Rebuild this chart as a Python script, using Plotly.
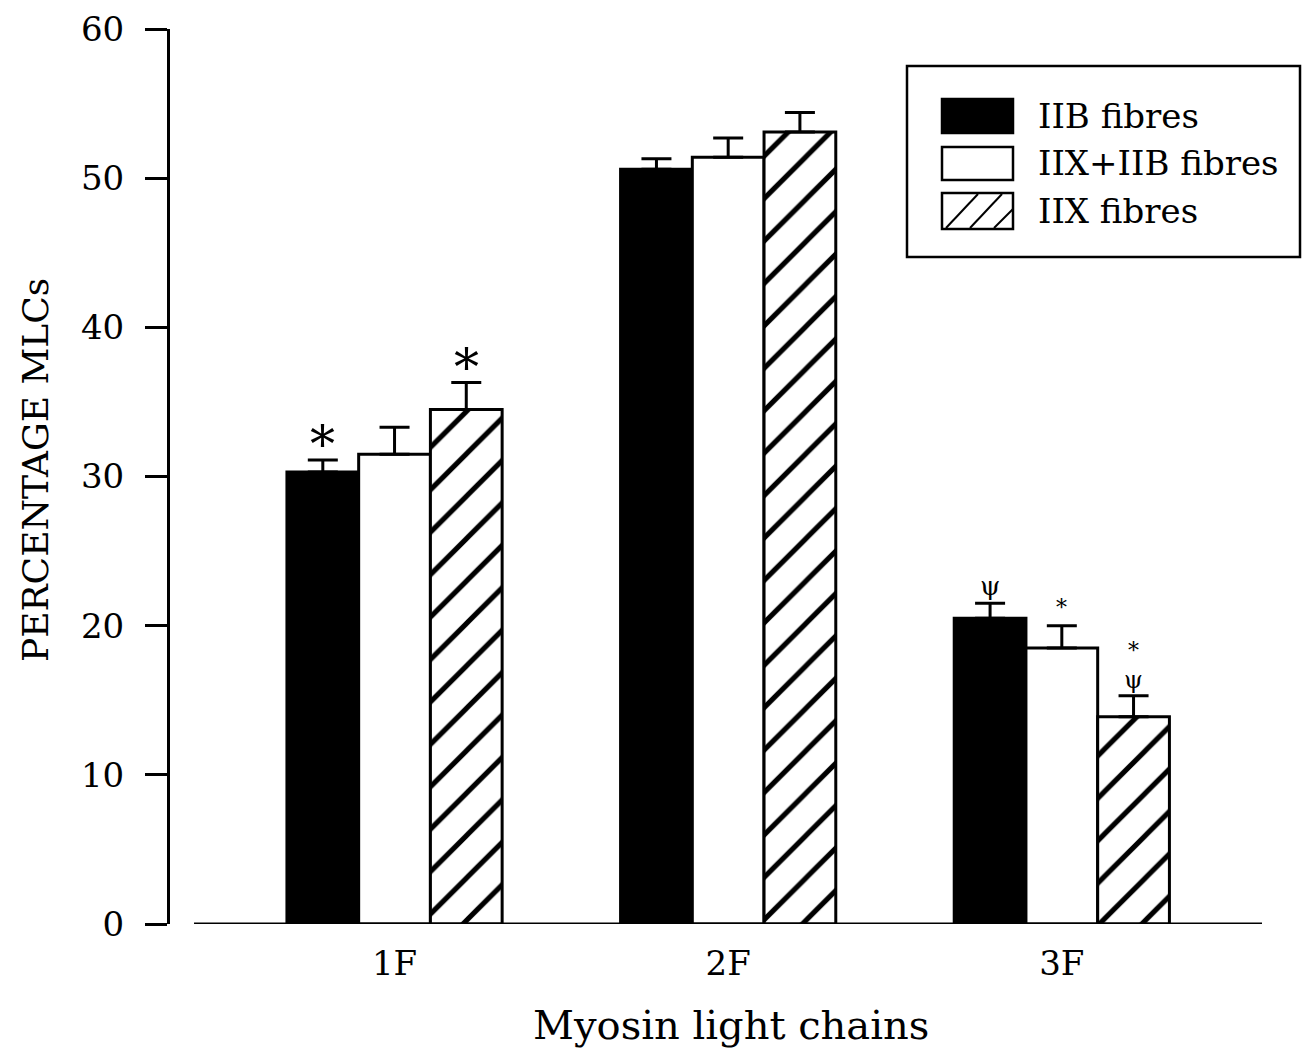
import plotly.graph_objects as go

# Myosin light chain composition by fibre type
categories = ["1F", "2F", "3F"]
series_names = ["IIB fibres", "IIX+IIB fibres", "IIX fibres"]
iib_values = [30.3, 50.6, 20.5]
iib_errors = [0.8, 0.7, 1.0]
mixed_values = [31.5, 51.4, 18.5]
mixed_errors = [1.8, 1.3, 1.5]
iix_values = [34.5, 53.1, 13.9]
iix_errors = [1.8, 1.3, 1.4]
y_ticks = [0, 10, 20, 30, 40, 50, 60]

FONT = "DejaVu Serif"
W, H = 1311, 1053
L, R, T, B = 170, 1262, 29, 924  # plot area edges in pixels


def px(x):
    return (x - L) / (R - L)


def py(y):
    return (B - y) / (B - T)


fig = go.Figure()

styles = [
    dict(color="black"),
    dict(color="white"),
    dict(color="white", pattern=dict(shape="/", fgcolor="black", bgcolor="white",
                                     fgopacity=1, size=30, solidity=0.17,
                                     fillmode="replace")),
]
values = [iib_values, mixed_values, iix_values]
errors = [iib_errors, mixed_errors, iix_errors]

for name, vals, errs, st in zip(series_names, values, errors, styles):
    fig.add_trace(go.Bar(
        name=name, x=categories, y=vals,
        marker=dict(line=dict(color="black", width=3), **st),
        error_y=dict(type="data", array=errs, arrayminus=[0] * len(errs),
                     symmetric=False, color="black", thickness=3, width=15),
        showlegend=False,
    ))

# x axis baseline (starts a little right of the y axis)
fig.add_shape(type="line", xref="x", yref="y", x0=-0.601, x1=2.6, y0=0, y1=0,
              line=dict(color="black", width=3))

# significance markers above the error bars
off = 0.215
marks = [
    (0 - off, iib_values[0] + iib_errors[0], "*", 50, -16),
    (0 + off, iix_values[0] + iix_errors[0], "*", 50, -16),
    (2 - off, iib_values[2] + iib_errors[2], "ψ", 26, 0),
    (2, mixed_values[2] + mixed_errors[2], "*", 22, 4),
    (2 + off, iix_values[2] + iix_errors[2], "ψ", 24, 0),
    (2 + off, iix_values[2] + iix_errors[2], "*", 22, 31),
]
for x, y, s, size, shift in marks:
    fig.add_annotation(x=x, y=y, xref="x", yref="y",
                       text=s, showarrow=False, xanchor="center", yanchor="bottom",
                       yshift=shift, font=dict(family=FONT, size=size, color="black"))

# legend box drawn by hand
fig.add_shape(type="rect", xref="paper", yref="paper",
              x0=px(907), x1=px(1300), y0=py(257), y1=py(66),
              line=dict(color="black", width=2.5), fillcolor="white")
rows = [(99, 133), (147, 180), (193, 229)]
sw_x0, sw_x1 = 942, 1013
fills = ["black", "white", "white"]
for (y0, y1), fc, name in zip(rows, fills, series_names):
    fig.add_shape(type="rect", xref="paper", yref="paper",
                  x0=px(sw_x0), x1=px(sw_x1), y0=py(y1), y1=py(y0),
                  line=dict(color="black", width=2.5), fillcolor=fc)
    fig.add_annotation(x=px(1036), y=py((y0 + y1) / 2), xref="paper", yref="paper",
                       text=name, showarrow=False, xanchor="left", yanchor="middle",
                       font=dict(family=FONT, size=34, color="black"))
# hatching inside the third swatch
hy0, hy1 = rows[2]
for xb, xt, yt in [(946, 978, hy0), (970, 1002, hy0), (994, 1013, hy0 + 15)]:
    fig.add_shape(type="line", xref="paper", yref="paper",
                  x0=px(xb), y0=py(hy1 - 1), x1=px(xt), y1=py(yt + 1),
                  line=dict(color="black", width=2))

# axis titles
fig.add_annotation(x=px(35), y=py(470), xref="paper", yref="paper",
                   text="PERCENTAGE MLCs", textangle=-90, showarrow=False,
                   xanchor="center", yanchor="middle",
                   font=dict(family=FONT, size=36, color="black"))
fig.add_annotation(x=px(731), y=py(1025), xref="paper", yref="paper",
                   text="Myosin light chains", showarrow=False,
                   xanchor="center", yanchor="middle",
                   font=dict(family=FONT, size=40, color="black"))

fig.update_layout(
    width=W, height=H,
    margin=dict(l=L, r=W - R, t=T, b=H - B),
    paper_bgcolor="white", plot_bgcolor="white",
    barmode="group", bargap=0.355, bargroupgap=0,
    xaxis=dict(range=[-0.673, 2.6], showline=False, showgrid=False, zeroline=False,
               ticks="", tickfont=dict(family=FONT, size=34, color="black"),
               ticklabelstandoff=16, automargin=False),
    yaxis=dict(range=[0, 60], tickvals=y_ticks, showline=True, linecolor="black",
               linewidth=3, ticks="outside", ticklen=22, tickwidth=3, tickcolor="black",
               showgrid=False, zeroline=False, ticklabelstandoff=14, automargin=False,
               tickfont=dict(family=FONT, size=34, color="black")),
    showlegend=False,
)

fig.write_html("out.html")
